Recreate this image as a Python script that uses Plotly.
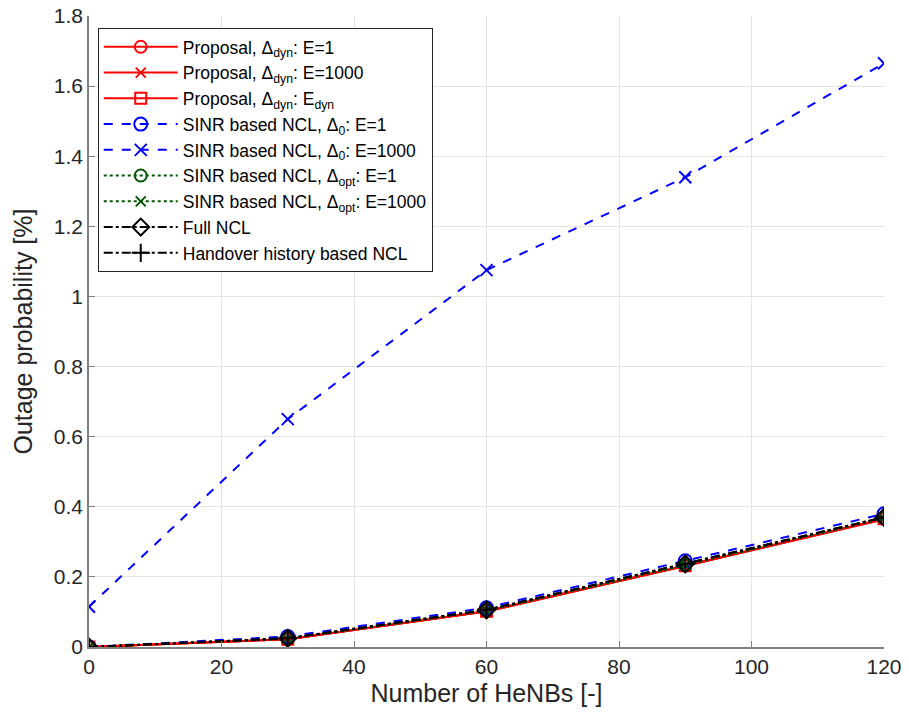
import plotly.graph_objects as go

# Number of HeNBs deployed
henbs = [0, 30, 60, 90, 120]

# Outage probability [%] per scheme
prop_e1 = [0, 0.022, 0.102, 0.232, 0.365]
prop_e1000 = [0, 0.022, 0.101, 0.231, 0.364]
prop_edyn = [0, 0.022, 0.102, 0.232, 0.366]
sinr0_e1 = [0, 0.030, 0.112, 0.246, 0.380]
sinr0_e1000 = [0.115, 0.650, 1.075, 1.340, 1.665]
sinropt_e1 = [0, 0.024, 0.104, 0.234, 0.368]
sinropt_e1000 = [0, 0.024, 0.104, 0.234, 0.368]
full_ncl = [0, 0.025, 0.106, 0.237, 0.370]
ho_ncl = [0, 0.025, 0.106, 0.237, 0.370]

RED = "#ff0000"
BLUE = "#0000ff"
GREEN = "#005500"
BLACK = "#000000"

series = [
    ("Proposal, Δ<sub>dyn</sub>: E=1", prop_e1, RED, "solid", "circle-open", 12),
    ("Proposal, Δ<sub>dyn</sub>: E=1000", prop_e1000, RED, "solid", "x-thin-open", 10),
    ("Proposal, Δ<sub>dyn</sub>: E<sub>dyn</sub>", prop_edyn, RED, "solid", "square-open", 11),
    ("SINR based NCL, Δ<sub>0</sub>: E=1", sinr0_e1, BLUE, "dash", "circle-open", 13),
    ("SINR based NCL, Δ<sub>0</sub>: E=1000", sinr0_e1000, BLUE, "dash", "x-thin-open", 12),
    ("SINR based NCL, Δ<sub>opt</sub>: E=1", sinropt_e1, GREEN, "dot", "circle-open", 12),
    ("SINR based NCL, Δ<sub>opt</sub>: E=1000", sinropt_e1000, GREEN, "dot", "x-thin-open", 10),
    ("Full NCL", full_ncl, BLACK, "dashdot", "diamond-open", 13),
    ("Handover history based NCL", ho_ncl, BLACK, "dashdot", "cross-thin-open", 13),
]

fig = go.Figure()
for name, vals, color, dash, sym, size in series:
    fig.add_trace(go.Scatter(
        x=henbs, y=vals, name=name, mode="lines+markers",
        line=dict(color=color, width=2, dash=dash),
        marker=dict(symbol=sym, size=size, color=color,
                    line=dict(color=color, width=2)),
    ))

axis_font = dict(family="Liberation Sans, Arial, sans-serif", size=21, color="#262626")
fig.update_layout(
    width=909, height=722,
    margin=dict(l=89, r=25, t=16, b=75, autoexpand=False),
    paper_bgcolor="white", plot_bgcolor="white",
    font=dict(family="Liberation Sans, Arial, sans-serif", color="#262626"),
    showlegend=True,
    legend=dict(
        x=0.011, y=0.981, xanchor="left", yanchor="top",
        bgcolor="white", bordercolor="#262626", borderwidth=1,
        font=dict(size=17.5, color="#000000"),
        itemwidth=74, tracegroupgap=0,
    ),
    xaxis=dict(
        range=[0, 120], tickvals=[0, 20, 40, 60, 80, 100, 120],
        showgrid=True, gridcolor="#e3e3e3", gridwidth=1,
        showline=True, linecolor="#808080", linewidth=1.5,
        ticks="inside", ticklen=6, tickcolor="#808080",
        tickfont=axis_font, zeroline=False,
        title=dict(text="Number of HeNBs [-]", font=dict(size=25, color="#262626"), standoff=8),
    ),
    yaxis=dict(
        range=[0, 1.8], tickvals=[0, 0.2, 0.4, 0.6, 0.8, 1, 1.2, 1.4, 1.6, 1.8],
        ticktext=["0", "0.2", "0.4", "0.6", "0.8", "1", "1.2", "1.4", "1.6", "1.8"],
        showgrid=True, gridcolor="#e3e3e3", gridwidth=1,
        showline=True, linecolor="#808080", linewidth=1.5,
        ticks="inside", ticklen=6, tickcolor="#808080",
        tickfont=axis_font, zeroline=False,
        title=dict(text="Outage probability [%]", font=dict(size=25, color="#262626"), standoff=14),
    ),
)

fig.write_html("out.html")
